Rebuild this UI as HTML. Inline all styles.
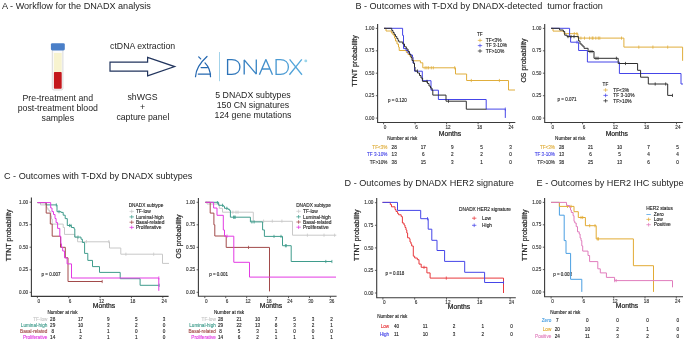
<!DOCTYPE html><html><head><meta charset="utf-8"><style>html,body{margin:0;padding:0;background:#fff;overflow:hidden}svg{display:block;filter:blur(0.25px)}text{font-family:"Liberation Sans",sans-serif}</style></head><body>
<svg width="685" height="342" viewBox="0 0 685 342">
<rect width="685" height="342" fill="#fff"/>
<text x="2.00" y="9.40" font-size="9.1" fill="#1e1e1e" text-anchor="start" >A - Workflow for the DNADX analysis</text>
<rect x="52.3" y="49" width="10.6" height="41" rx="1.6" fill="#fbfbfb" stroke="#d0d0d0" stroke-width="0.8"/>
<rect x="53.9" y="52.9" width="7.8" height="19.2" fill="#f7f3cf"/>
<rect x="53.9" y="71.9" width="7.8" height="16.8" rx="0.8" fill="#c4181c"/>
<rect x="50.9" y="43.2" width="13.9" height="7.3" rx="1.4" fill="#4a7fc8"/>
<text x="57.80" y="101.10" font-size="8.75" fill="#1e1e1e" text-anchor="middle" >Pre-treatment and</text>
<text x="57.80" y="111.00" font-size="8.75" fill="#1e1e1e" text-anchor="middle" >post-treatment blood</text>
<text x="57.80" y="120.90" font-size="8.75" fill="#1e1e1e" text-anchor="middle" >samples</text>
<text x="142.60" y="48.80" font-size="8.75" fill="#1e1e1e" text-anchor="middle" >ctDNA extraction</text>
<path d="M110 62.1H147.6V57.4L174.7 66.6L147.6 75.8V71.1H110Z" fill="#fff" stroke="#22355e" stroke-width="1.2" stroke-linejoin="miter"/>
<text x="142.50" y="100.10" font-size="8.75" fill="#1e1e1e" text-anchor="middle" >shWGS</text>
<text x="142.50" y="110.20" font-size="8.75" fill="#1e1e1e" text-anchor="middle" >+</text>
<text x="142.90" y="120.30" font-size="8.75" fill="#1e1e1e" text-anchor="middle" >capture panel</text>
<defs><linearGradient id="lg" gradientUnits="userSpaceOnUse" x1="215" y1="80" x2="300" y2="48"><stop offset="0" stop-color="#2467b0"/><stop offset="1" stop-color="#5aaee0"/></linearGradient></defs>
<g fill="none" stroke="url(#lg)" stroke-width="1.25" stroke-linecap="round"><path d="M198.7 56.9L200.7 58.9"/><path d="M207 56.5C202 61 196 67 195.5 76.7"/><path d="M205 62.9C208 66 210.4 70 210.5 76.7"/><path d="M201.1 67.6H207.4"/><path d="M198.3 74.1H210.5"/></g>
<path d="M219.5 52V81.2" stroke="#8cc8e4" stroke-width="0.8"/>
<g fill="none" stroke="url(#lg)" stroke-width="1.35" stroke-linejoin="miter"><path d="M227.6 59.6V74.4H231.8C236.9 74.4 239.9 71.2 239.9 67C239.9 62.8 236.9 59.6 231.8 59.6Z"/><path d="M244.2 74.6V59.9L256.3 74.1V59.4" stroke-linejoin="bevel"/><path d="M259.4 74.7L265.9 59.6L272.5 74.7M261.9 69H270" stroke-linejoin="round"/><path d="M276.1 59.6V74.4H280.3C285.4 74.4 288.4 71.2 288.4 67C288.4 62.8 285.4 59.6 280.3 59.6Z"/><path d="M289.6 59.4L302 74.7M301.8 59.4L289.4 74.7"/></g>
<circle cx="305.8" cy="60.9" r="1.45" fill="#9cd6ea"/>
<text x="253.00" y="98.20" font-size="8.75" fill="#1e1e1e" text-anchor="middle" >5 DNADX subtypes</text>
<text x="253.00" y="108.10" font-size="8.75" fill="#1e1e1e" text-anchor="middle" >150 CN signatures</text>
<text x="253.00" y="118.00" font-size="8.75" fill="#1e1e1e" text-anchor="middle" >124 gene mutations</text>
<text x="355.40" y="9.30" font-size="9.1" fill="#1e1e1e" text-anchor="start" style="white-space:pre">B - Outcomes with T-DXd by DNADX-detected  tumor fraction</text>
<path d="M377.60 24.10V122.50H515.30" fill="none" stroke="#3a3a3a" stroke-width="1.1"/>
<path d="M375.80 28.40H377.60M375.80 50.80H377.60M375.80 73.20H377.60M375.80 95.70H377.60M375.80 118.10H377.60M383.60 122.50V124.30M415.10 122.50V124.30M446.60 122.50V124.30M478.10 122.50V124.30M509.60 122.50V124.30" stroke="#3a3a3a" stroke-width="0.8" fill="none"/>
<text x="374.30" y="30.05" font-size="4.65" fill="#333333" stroke="#333333" stroke-width="0.12" text-anchor="end" >1.00</text>
<text x="374.30" y="52.45" font-size="4.65" fill="#333333" stroke="#333333" stroke-width="0.12" text-anchor="end" >0.75</text>
<text x="374.30" y="74.85" font-size="4.65" fill="#333333" stroke="#333333" stroke-width="0.12" text-anchor="end" >0.50</text>
<text x="374.30" y="97.35" font-size="4.65" fill="#333333" stroke="#333333" stroke-width="0.12" text-anchor="end" >0.25</text>
<text x="374.30" y="119.75" font-size="4.65" fill="#333333" stroke="#333333" stroke-width="0.12" text-anchor="end" >0.00</text>
<text x="385.00" y="128.90" font-size="4.65" fill="#333333" stroke="#333333" stroke-width="0.12" text-anchor="middle" >0</text>
<text x="416.50" y="128.90" font-size="4.65" fill="#333333" stroke="#333333" stroke-width="0.12" text-anchor="middle" >6</text>
<text x="448.00" y="128.90" font-size="4.65" fill="#333333" stroke="#333333" stroke-width="0.12" text-anchor="middle" >12</text>
<text x="479.50" y="128.90" font-size="4.65" fill="#333333" stroke="#333333" stroke-width="0.12" text-anchor="middle" >18</text>
<text x="511.00" y="128.90" font-size="4.65" fill="#333333" stroke="#333333" stroke-width="0.12" text-anchor="middle" >24</text>
<text transform="translate(356.80,61.00) rotate(-90)" font-size="7" fill="#1e1e1e" stroke="#1e1e1e" stroke-width="0.2" text-anchor="middle">TTNT probability</text>
<text x="450.00" y="135.70" font-size="6.8" fill="#1e1e1e" stroke="#1e1e1e" stroke-width="0.22" text-anchor="middle" >Months</text>
<text x="387.90" y="102.00" font-size="4.5" fill="#1e1e1e" stroke="#1e1e1e" stroke-width="0.12" text-anchor="start" >p = 0.120</text>
<path d="M384.00 28.30H386.00V31.00H391.40V33.00H393.00V35.00H394.50V38.00H395.50V41.00H397.00V44.00H398.50V47.00H399.20V50.50H406.30V52.50H408.00V54.50H410.00V56.50H411.70V58.00H412.90V60.80H420.40V62.80H422.80V67.80H455.50V74.00H466.60V80.50H508.50V90.00H515.00" fill="none" stroke="#e0ae3c" stroke-width="1.0" stroke-opacity="1.0"/>
<path d="M425.10 66.20V69.40M426.90 66.20V69.40M428.60 66.20V69.40M431.30 66.20V69.40M433.30 66.20V69.40M454.70 66.20V69.40" stroke="#e0ae3c" stroke-width="0.8" fill="none"/>
<path d="M471.30 78.90V82.10M499.40 78.90V82.10" stroke="#e0ae3c" stroke-width="0.8" fill="none"/>
<path d="M384.00 28.30H402.60V35.40H403.50V48.60H406.00V50.50H408.00V53.00H410.00V55.00H412.50V57.00H413.00V63.00H414.50V71.20H422.30V80.70H431.00V90.20H438.40V99.50H486.20V109.10H505.30V117.90H505.30" fill="none" stroke="#4545e8" stroke-width="1.0" stroke-opacity="1.0"/>
<path d="M505.30 107.50V110.70" stroke="#4545e8" stroke-width="0.8" fill="none"/>
<path d="M384.00 28.30H391.80V30.50H393.00V32.50H394.20V34.50H395.50V36.50H396.80V38.50H398.00V40.50H398.90V42.00H402.80V44.00H404.50V46.80H406.30V49.00H408.00V51.50H409.50V54.50H411.00V57.50H412.00V60.50H413.40V63.40H414.50V67.00H415.00V71.00H417.50V73.00H419.50V75.50H421.00V78.00H422.60V81.40H427.50V83.50H429.00V86.00H430.50V88.00H432.00V90.00H432.80V95.10H446.00V101.20H466.30V109.20H486.50" fill="none" stroke="#2e2e2e" stroke-width="1.0" stroke-opacity="1.0"/>
<path d="M417.40 69.40V72.60" stroke="#2e2e2e" stroke-width="0.8" fill="none"/>
<path d="M427.00 79.80V83.00" stroke="#2e2e2e" stroke-width="0.8" fill="none"/>
<path d="M448.50 99.60V102.80" stroke="#2e2e2e" stroke-width="0.8" fill="none"/>
<text x="477.00" y="36.00" font-size="4.65" fill="#1e1e1e" stroke="#1e1e1e" stroke-width="0.12" text-anchor="start" >TF</text>
<path d="M477.80 40.40H482.20M480.00 38.60V42.20" stroke="#e0ae3c" stroke-width="0.75"/>
<text x="485.80" y="42.10" font-size="4.85" fill="#1e1e1e" stroke="#1e1e1e" stroke-width="0.12" text-anchor="start" >TF&lt;3%</text>
<path d="M477.80 45.60H482.20M480.00 43.80V47.40" stroke="#4545e8" stroke-width="0.75"/>
<text x="485.80" y="47.30" font-size="4.85" fill="#1e1e1e" stroke="#1e1e1e" stroke-width="0.12" text-anchor="start" >TF 3-10%</text>
<path d="M477.80 51.00H482.20M480.00 49.20V52.80" stroke="#2e2e2e" stroke-width="0.75"/>
<text x="485.80" y="52.70" font-size="4.85" fill="#1e1e1e" stroke="#1e1e1e" stroke-width="0.12" text-anchor="start" >TF&gt;10%</text>
<text x="387.20" y="140.00" font-size="4.65" fill="#1e1e1e" stroke="#1e1e1e" stroke-width="0.12" text-anchor="start" >Number at risk</text>
<text x="387.40" y="149.00" font-size="4.65" fill="#e0ae3c" stroke="#e0ae3c" stroke-width="0.12" text-anchor="end" >TF&lt;3%</text>
<text x="394.20" y="149.00" font-size="4.65" fill="#1e1e1e" stroke="#1e1e1e" stroke-width="0.12" text-anchor="middle" >28</text>
<text x="423.30" y="149.00" font-size="4.65" fill="#1e1e1e" stroke="#1e1e1e" stroke-width="0.12" text-anchor="middle" >17</text>
<text x="452.40" y="149.00" font-size="4.65" fill="#1e1e1e" stroke="#1e1e1e" stroke-width="0.12" text-anchor="middle" >9</text>
<text x="481.50" y="149.00" font-size="4.65" fill="#1e1e1e" stroke="#1e1e1e" stroke-width="0.12" text-anchor="middle" >5</text>
<text x="510.60" y="149.00" font-size="4.65" fill="#1e1e1e" stroke="#1e1e1e" stroke-width="0.12" text-anchor="middle" >3</text>
<text x="387.40" y="156.00" font-size="4.65" fill="#4545e8" stroke="#4545e8" stroke-width="0.12" text-anchor="end" >TF 3-10%</text>
<text x="394.20" y="156.00" font-size="4.65" fill="#1e1e1e" stroke="#1e1e1e" stroke-width="0.12" text-anchor="middle" >13</text>
<text x="423.30" y="156.00" font-size="4.65" fill="#1e1e1e" stroke="#1e1e1e" stroke-width="0.12" text-anchor="middle" >6</text>
<text x="452.40" y="156.00" font-size="4.65" fill="#1e1e1e" stroke="#1e1e1e" stroke-width="0.12" text-anchor="middle" >2</text>
<text x="481.50" y="156.00" font-size="4.65" fill="#1e1e1e" stroke="#1e1e1e" stroke-width="0.12" text-anchor="middle" >2</text>
<text x="510.60" y="156.00" font-size="4.65" fill="#1e1e1e" stroke="#1e1e1e" stroke-width="0.12" text-anchor="middle" >0</text>
<text x="387.40" y="164.00" font-size="4.65" fill="#2e2e2e" stroke="#2e2e2e" stroke-width="0.12" text-anchor="end" >TF&gt;10%</text>
<text x="394.20" y="164.00" font-size="4.65" fill="#1e1e1e" stroke="#1e1e1e" stroke-width="0.12" text-anchor="middle" >38</text>
<text x="423.30" y="164.00" font-size="4.65" fill="#1e1e1e" stroke="#1e1e1e" stroke-width="0.12" text-anchor="middle" >15</text>
<text x="452.40" y="164.00" font-size="4.65" fill="#1e1e1e" stroke="#1e1e1e" stroke-width="0.12" text-anchor="middle" >3</text>
<text x="481.50" y="164.00" font-size="4.65" fill="#1e1e1e" stroke="#1e1e1e" stroke-width="0.12" text-anchor="middle" >1</text>
<text x="510.60" y="164.00" font-size="4.65" fill="#1e1e1e" stroke="#1e1e1e" stroke-width="0.12" text-anchor="middle" >0</text>
<path d="M544.70 24.10V122.50H682.80" fill="none" stroke="#3a3a3a" stroke-width="1.1"/>
<path d="M542.90 28.40H544.70M542.90 50.80H544.70M542.90 73.20H544.70M542.90 95.70H544.70M542.90 118.10H544.70M551.30 122.50V124.30M582.60 122.50V124.30M613.90 122.50V124.30M645.20 122.50V124.30M676.50 122.50V124.30" stroke="#3a3a3a" stroke-width="0.8" fill="none"/>
<text x="541.40" y="30.05" font-size="4.65" fill="#333333" stroke="#333333" stroke-width="0.12" text-anchor="end" >1.00</text>
<text x="541.40" y="52.45" font-size="4.65" fill="#333333" stroke="#333333" stroke-width="0.12" text-anchor="end" >0.75</text>
<text x="541.40" y="74.85" font-size="4.65" fill="#333333" stroke="#333333" stroke-width="0.12" text-anchor="end" >0.50</text>
<text x="541.40" y="97.35" font-size="4.65" fill="#333333" stroke="#333333" stroke-width="0.12" text-anchor="end" >0.25</text>
<text x="541.40" y="119.75" font-size="4.65" fill="#333333" stroke="#333333" stroke-width="0.12" text-anchor="end" >0.00</text>
<text x="552.70" y="128.90" font-size="4.65" fill="#333333" stroke="#333333" stroke-width="0.12" text-anchor="middle" >0</text>
<text x="584.00" y="128.90" font-size="4.65" fill="#333333" stroke="#333333" stroke-width="0.12" text-anchor="middle" >6</text>
<text x="615.30" y="128.90" font-size="4.65" fill="#333333" stroke="#333333" stroke-width="0.12" text-anchor="middle" >12</text>
<text x="646.60" y="128.90" font-size="4.65" fill="#333333" stroke="#333333" stroke-width="0.12" text-anchor="middle" >18</text>
<text x="677.90" y="128.90" font-size="4.65" fill="#333333" stroke="#333333" stroke-width="0.12" text-anchor="middle" >24</text>
<text transform="translate(526.20,60.60) rotate(-90)" font-size="7" fill="#1e1e1e" stroke="#1e1e1e" stroke-width="0.2" text-anchor="middle">OS probability</text>
<text x="616.80" y="135.70" font-size="6.8" fill="#1e1e1e" stroke="#1e1e1e" stroke-width="0.22" text-anchor="middle" >Months</text>
<text x="557.60" y="101.30" font-size="4.5" fill="#1e1e1e" stroke="#1e1e1e" stroke-width="0.12" text-anchor="start" >p = 0.071</text>
<path d="M551.10 28.30H553.00V31.10H564.00V33.70H577.90V38.10H623.90V47.10H682.60V60.80H682.60" fill="none" stroke="#e0ae3c" stroke-width="1.0" stroke-opacity="1.0"/>
<path d="M574.30 32.10V35.30M576.90 32.10V35.30" stroke="#e0ae3c" stroke-width="0.8" fill="none"/>
<path d="M580.90 36.50V39.70M584.50 36.50V39.70M589.60 36.50V39.70M592.20 36.50V39.70M593.00 36.50V39.70M595.80 36.50V39.70M598.30 36.50V39.70M599.80 36.50V39.70M621.50 36.50V39.70" stroke="#e0ae3c" stroke-width="0.8" fill="none"/>
<path d="M638.80 45.50V48.70M652.90 45.50V48.70M667.70 45.50V48.70" stroke="#e0ae3c" stroke-width="0.8" fill="none"/>
<path d="M551.10 28.30H569.60V36.60H570.60V42.20H578.60V50.50H587.40V62.00H619.40V73.50H681.00V84.00H683.00" fill="none" stroke="#4545e8" stroke-width="1.0" stroke-opacity="1.0"/>
<path d="M577.00 40.60V43.80" stroke="#4545e8" stroke-width="0.8" fill="none"/>
<path d="M551.10 28.30H559.60V30.00H563.30V31.50H564.70V35.20H567.00V36.60H578.60V41.00H580.00V44.00H582.00V46.00H584.00V48.30H588.10V51.50H594.00V58.30H618.20V63.50H637.60V70.30H640.60V77.20H648.30V84.00H667.70V95.40H672.50" fill="none" stroke="#2e2e2e" stroke-width="1.0" stroke-opacity="1.0"/>
<path d="M568.00 35.00V38.20M571.00 35.00V38.20M574.00 35.00V38.20" stroke="#2e2e2e" stroke-width="0.8" fill="none"/>
<path d="M590.00 49.90V53.10M592.00 49.90V53.10" stroke="#2e2e2e" stroke-width="0.8" fill="none"/>
<path d="M596.00 56.70V59.90M598.00 56.70V59.90M616.40 56.70V59.90" stroke="#2e2e2e" stroke-width="0.8" fill="none"/>
<path d="M625.50 61.90V65.10" stroke="#2e2e2e" stroke-width="0.8" fill="none"/>
<path d="M655.20 82.40V85.60M665.70 82.40V85.60" stroke="#2e2e2e" stroke-width="0.8" fill="none"/>
<path d="M672.50 93.80V97.00" stroke="#2e2e2e" stroke-width="0.8" fill="none"/>
<text x="602.60" y="85.70" font-size="4.65" fill="#1e1e1e" stroke="#1e1e1e" stroke-width="0.12" text-anchor="start" >TF</text>
<path d="M603.40 90.00H607.80M605.60 88.20V91.80" stroke="#e0ae3c" stroke-width="0.75"/>
<text x="613.20" y="91.70" font-size="4.85" fill="#1e1e1e" stroke="#1e1e1e" stroke-width="0.12" text-anchor="start" >TF&lt;3%</text>
<path d="M603.40 95.40H607.80M605.60 93.60V97.20" stroke="#4545e8" stroke-width="0.75"/>
<text x="613.20" y="97.10" font-size="4.85" fill="#1e1e1e" stroke="#1e1e1e" stroke-width="0.12" text-anchor="start" >TF 3-10%</text>
<path d="M603.40 100.80H607.80M605.60 99.00V102.60" stroke="#2e2e2e" stroke-width="0.75"/>
<text x="613.20" y="102.50" font-size="4.85" fill="#1e1e1e" stroke="#1e1e1e" stroke-width="0.12" text-anchor="start" >TF&gt;10%</text>
<text x="555.10" y="140.00" font-size="4.65" fill="#1e1e1e" stroke="#1e1e1e" stroke-width="0.12" text-anchor="start" >Number at risk</text>
<text x="555.00" y="149.00" font-size="4.65" fill="#e0ae3c" stroke="#e0ae3c" stroke-width="0.12" text-anchor="end" >TF&lt;3%</text>
<text x="561.60" y="149.00" font-size="4.65" fill="#1e1e1e" stroke="#1e1e1e" stroke-width="0.12" text-anchor="middle" >28</text>
<text x="590.60" y="149.00" font-size="4.65" fill="#1e1e1e" stroke="#1e1e1e" stroke-width="0.12" text-anchor="middle" >21</text>
<text x="619.60" y="149.00" font-size="4.65" fill="#1e1e1e" stroke="#1e1e1e" stroke-width="0.12" text-anchor="middle" >10</text>
<text x="648.60" y="149.00" font-size="4.65" fill="#1e1e1e" stroke="#1e1e1e" stroke-width="0.12" text-anchor="middle" >7</text>
<text x="677.60" y="149.00" font-size="4.65" fill="#1e1e1e" stroke="#1e1e1e" stroke-width="0.12" text-anchor="middle" >5</text>
<text x="555.00" y="156.00" font-size="4.65" fill="#4545e8" stroke="#4545e8" stroke-width="0.12" text-anchor="end" >TF 3-10%</text>
<text x="561.60" y="156.00" font-size="4.65" fill="#1e1e1e" stroke="#1e1e1e" stroke-width="0.12" text-anchor="middle" >13</text>
<text x="590.60" y="156.00" font-size="4.65" fill="#1e1e1e" stroke="#1e1e1e" stroke-width="0.12" text-anchor="middle" >6</text>
<text x="619.60" y="156.00" font-size="4.65" fill="#1e1e1e" stroke="#1e1e1e" stroke-width="0.12" text-anchor="middle" >5</text>
<text x="648.60" y="156.00" font-size="4.65" fill="#1e1e1e" stroke="#1e1e1e" stroke-width="0.12" text-anchor="middle" >4</text>
<text x="677.60" y="156.00" font-size="4.65" fill="#1e1e1e" stroke="#1e1e1e" stroke-width="0.12" text-anchor="middle" >4</text>
<text x="555.00" y="164.00" font-size="4.65" fill="#2e2e2e" stroke="#2e2e2e" stroke-width="0.12" text-anchor="end" >TF&gt;10%</text>
<text x="561.60" y="164.00" font-size="4.65" fill="#1e1e1e" stroke="#1e1e1e" stroke-width="0.12" text-anchor="middle" >38</text>
<text x="590.60" y="164.00" font-size="4.65" fill="#1e1e1e" stroke="#1e1e1e" stroke-width="0.12" text-anchor="middle" >25</text>
<text x="619.60" y="164.00" font-size="4.65" fill="#1e1e1e" stroke="#1e1e1e" stroke-width="0.12" text-anchor="middle" >13</text>
<text x="648.60" y="164.00" font-size="4.65" fill="#1e1e1e" stroke="#1e1e1e" stroke-width="0.12" text-anchor="middle" >6</text>
<text x="677.60" y="164.00" font-size="4.65" fill="#1e1e1e" stroke="#1e1e1e" stroke-width="0.12" text-anchor="middle" >0</text>
<text x="4.00" y="179.40" font-size="9.1" fill="#1e1e1e" text-anchor="start" >C - Outcomes with T-DXd by DNADX subtypes</text>
<path d="M31.40 197.60V296.40H168.60" fill="none" stroke="#3a3a3a" stroke-width="1.1"/>
<path d="M29.60 202.20H31.40M29.60 224.70H31.40M29.60 247.20H31.40M29.60 269.80H31.40M29.60 292.30H31.40M37.40 296.40V298.20M68.75 296.40V298.20M100.10 296.40V298.20M131.45 296.40V298.20M162.80 296.40V298.20" stroke="#3a3a3a" stroke-width="0.8" fill="none"/>
<text x="28.10" y="203.85" font-size="4.65" fill="#333333" stroke="#333333" stroke-width="0.12" text-anchor="end" >1.00</text>
<text x="28.10" y="226.35" font-size="4.65" fill="#333333" stroke="#333333" stroke-width="0.12" text-anchor="end" >0.75</text>
<text x="28.10" y="248.85" font-size="4.65" fill="#333333" stroke="#333333" stroke-width="0.12" text-anchor="end" >0.50</text>
<text x="28.10" y="271.45" font-size="4.65" fill="#333333" stroke="#333333" stroke-width="0.12" text-anchor="end" >0.25</text>
<text x="28.10" y="293.95" font-size="4.65" fill="#333333" stroke="#333333" stroke-width="0.12" text-anchor="end" >0.00</text>
<text x="38.80" y="302.80" font-size="4.65" fill="#333333" stroke="#333333" stroke-width="0.12" text-anchor="middle" >0</text>
<text x="70.15" y="302.80" font-size="4.65" fill="#333333" stroke="#333333" stroke-width="0.12" text-anchor="middle" >6</text>
<text x="101.50" y="302.80" font-size="4.65" fill="#333333" stroke="#333333" stroke-width="0.12" text-anchor="middle" >12</text>
<text x="132.85" y="302.80" font-size="4.65" fill="#333333" stroke="#333333" stroke-width="0.12" text-anchor="middle" >18</text>
<text x="164.20" y="302.80" font-size="4.65" fill="#333333" stroke="#333333" stroke-width="0.12" text-anchor="middle" >24</text>
<text transform="translate(10.90,235.40) rotate(-90)" font-size="7" fill="#1e1e1e" stroke="#1e1e1e" stroke-width="0.2" text-anchor="middle">TTNT probability</text>
<text x="104.00" y="307.60" font-size="6.8" fill="#1e1e1e" stroke="#1e1e1e" stroke-width="0.22" text-anchor="middle" >Months</text>
<text x="41.60" y="275.70" font-size="4.5" fill="#1e1e1e" stroke="#1e1e1e" stroke-width="0.12" text-anchor="start" >p = 0.007</text>
<path d="M37.60 202.60H40.50V204.90H46.70V208.00H48.00V210.00H49.40V211.70H50.80V215.90H51.50V219.00H52.20V224.10H63.20V227.50H64.50V234.40H74.80V237.10H77.60V241.80H109.50V248.00H120.80V254.20H162.50V263.40H169.00" fill="none" stroke="#c8c8c8" stroke-width="1.0" stroke-opacity="1.0"/>
<path d="M86.40 240.00V243.20M108.80 240.00V243.20" stroke="#c8c8c8" stroke-width="0.8" fill="none"/>
<path d="M125.90 252.60V255.80M153.70 252.60V255.80" stroke="#c8c8c8" stroke-width="0.8" fill="none"/>
<path d="M37.60 202.60H46.00V204.90H57.00V211.70H61.10V212.40H63.20V215.20H65.20V218.60H67.30V225.50H71.40V227.50H74.10V228.90H74.80V237.10H81.00V239.20H82.40V242.50H84.60V253.40H87.80V260.40H92.50V266.60H99.50V272.40H120.20V278.70H140.10V285.30H159.20" fill="none" stroke="#3f9c8c" stroke-width="1.0" stroke-opacity="1.0"/>
<path d="M56.30 203.30V206.50" stroke="#3f9c8c" stroke-width="0.8" fill="none"/>
<path d="M59.00 210.10V213.30" stroke="#3f9c8c" stroke-width="0.8" fill="none"/>
<path d="M69.50 223.90V227.10M71.00 223.90V227.10" stroke="#3f9c8c" stroke-width="0.8" fill="none"/>
<path d="M78.00 235.50V238.70" stroke="#3f9c8c" stroke-width="0.8" fill="none"/>
<path d="M159.20 283.70V286.90" stroke="#3f9c8c" stroke-width="0.8" fill="none"/>
<path d="M37.60 202.60H46.20V213.10H50.30V224.00H52.20V236.20H60.50V247.30H65.30V257.80H68.00V281.50H102.20" fill="none" stroke="#a24a4a" stroke-width="1.0" stroke-opacity="1.0"/>
<path d="M102.20 279.90V283.10" stroke="#a24a4a" stroke-width="0.8" fill="none"/>
<path d="M37.60 202.60H50.70V208.00H52.00V211.60H53.50V214.50H55.00V218.50H56.10V222.60H57.60V228.40H59.80V236.50H60.90V243.80H61.50V247.30H62.70V251.00H64.50V257.80H67.10V263.90H71.50V278.00H158.80V290.80H158.80" fill="none" stroke="#e33ae3" stroke-width="1.0" stroke-opacity="1.0"/>
<path d="M158.80 276.40V279.60" stroke="#e33ae3" stroke-width="0.8" fill="none"/>
<text x="128.70" y="207.10" font-size="4.75" fill="#1e1e1e" stroke="#1e1e1e" stroke-width="0.12" text-anchor="start" >DNADX subtype</text>
<path d="M129.50 211.40H133.90M131.70 209.60V213.20" stroke="#c8c8c8" stroke-width="0.75"/>
<text x="135.90" y="213.10" font-size="4.85" fill="#1e1e1e" stroke="#1e1e1e" stroke-width="0.12" text-anchor="start" >TF-low</text>
<path d="M129.50 216.90H133.90M131.70 215.10V218.70" stroke="#3f9c8c" stroke-width="0.75"/>
<text x="135.90" y="218.60" font-size="4.85" fill="#1e1e1e" stroke="#1e1e1e" stroke-width="0.12" text-anchor="start" >Luminal-high</text>
<path d="M129.50 222.20H133.90M131.70 220.40V224.00" stroke="#a24a4a" stroke-width="0.75"/>
<text x="135.90" y="223.90" font-size="4.85" fill="#1e1e1e" stroke="#1e1e1e" stroke-width="0.12" text-anchor="start" >Basal-related</text>
<path d="M129.50 227.40H133.90M131.70 225.60V229.20" stroke="#e33ae3" stroke-width="0.75"/>
<text x="135.90" y="229.10" font-size="4.85" fill="#1e1e1e" stroke="#1e1e1e" stroke-width="0.12" text-anchor="start" >Proliferative</text>
<text x="47.40" y="314.00" font-size="4.65" fill="#1e1e1e" stroke="#1e1e1e" stroke-width="0.12" text-anchor="start" >Number at risk</text>
<text x="47.40" y="321.00" font-size="4.65" fill="#c8c8c8" stroke="#c8c8c8" stroke-width="0.12" text-anchor="end" >TF-low</text>
<text x="52.70" y="321.00" font-size="4.65" fill="#1e1e1e" stroke="#1e1e1e" stroke-width="0.12" text-anchor="middle" >28</text>
<text x="80.53" y="321.00" font-size="4.65" fill="#1e1e1e" stroke="#1e1e1e" stroke-width="0.12" text-anchor="middle" >17</text>
<text x="108.36" y="321.00" font-size="4.65" fill="#1e1e1e" stroke="#1e1e1e" stroke-width="0.12" text-anchor="middle" >9</text>
<text x="136.19" y="321.00" font-size="4.65" fill="#1e1e1e" stroke="#1e1e1e" stroke-width="0.12" text-anchor="middle" >5</text>
<text x="164.02" y="321.00" font-size="4.65" fill="#1e1e1e" stroke="#1e1e1e" stroke-width="0.12" text-anchor="middle" >3</text>
<text x="47.40" y="327.00" font-size="4.65" fill="#3f9c8c" stroke="#3f9c8c" stroke-width="0.12" text-anchor="end" >Luminal-high</text>
<text x="52.70" y="327.00" font-size="4.65" fill="#1e1e1e" stroke="#1e1e1e" stroke-width="0.12" text-anchor="middle" >29</text>
<text x="80.53" y="327.00" font-size="4.65" fill="#1e1e1e" stroke="#1e1e1e" stroke-width="0.12" text-anchor="middle" >10</text>
<text x="108.36" y="327.00" font-size="4.65" fill="#1e1e1e" stroke="#1e1e1e" stroke-width="0.12" text-anchor="middle" >3</text>
<text x="136.19" y="327.00" font-size="4.65" fill="#1e1e1e" stroke="#1e1e1e" stroke-width="0.12" text-anchor="middle" >2</text>
<text x="164.02" y="327.00" font-size="4.65" fill="#1e1e1e" stroke="#1e1e1e" stroke-width="0.12" text-anchor="middle" >0</text>
<text x="47.40" y="333.00" font-size="4.65" fill="#a24a4a" stroke="#a24a4a" stroke-width="0.12" text-anchor="end" >Basal-related</text>
<text x="52.70" y="333.00" font-size="4.65" fill="#1e1e1e" stroke="#1e1e1e" stroke-width="0.12" text-anchor="middle" >8</text>
<text x="80.53" y="333.00" font-size="4.65" fill="#1e1e1e" stroke="#1e1e1e" stroke-width="0.12" text-anchor="middle" >1</text>
<text x="108.36" y="333.00" font-size="4.65" fill="#1e1e1e" stroke="#1e1e1e" stroke-width="0.12" text-anchor="middle" >1</text>
<text x="136.19" y="333.00" font-size="4.65" fill="#1e1e1e" stroke="#1e1e1e" stroke-width="0.12" text-anchor="middle" >0</text>
<text x="164.02" y="333.00" font-size="4.65" fill="#1e1e1e" stroke="#1e1e1e" stroke-width="0.12" text-anchor="middle" >0</text>
<text x="47.40" y="339.00" font-size="4.65" fill="#e33ae3" stroke="#e33ae3" stroke-width="0.12" text-anchor="end" >Proliferative</text>
<text x="52.70" y="339.00" font-size="4.65" fill="#1e1e1e" stroke="#1e1e1e" stroke-width="0.12" text-anchor="middle" >14</text>
<text x="80.53" y="339.00" font-size="4.65" fill="#1e1e1e" stroke="#1e1e1e" stroke-width="0.12" text-anchor="middle" >2</text>
<text x="108.36" y="339.00" font-size="4.65" fill="#1e1e1e" stroke="#1e1e1e" stroke-width="0.12" text-anchor="middle" >1</text>
<text x="136.19" y="339.00" font-size="4.65" fill="#1e1e1e" stroke="#1e1e1e" stroke-width="0.12" text-anchor="middle" >1</text>
<text x="164.02" y="339.00" font-size="4.65" fill="#1e1e1e" stroke="#1e1e1e" stroke-width="0.12" text-anchor="middle" >0</text>
<path d="M198.40 197.90V296.30H336.60" fill="none" stroke="#3a3a3a" stroke-width="1.1"/>
<path d="M196.60 202.30H198.40M196.60 224.80H198.40M196.60 247.30H198.40M196.60 269.80H198.40M196.60 292.30H198.40M204.80 296.30V298.10M225.73 296.30V298.10M246.66 296.30V298.10M267.59 296.30V298.10M288.52 296.30V298.10M309.45 296.30V298.10M330.38 296.30V298.10" stroke="#3a3a3a" stroke-width="0.8" fill="none"/>
<text x="195.10" y="203.95" font-size="4.65" fill="#333333" stroke="#333333" stroke-width="0.12" text-anchor="end" >1.00</text>
<text x="195.10" y="226.45" font-size="4.65" fill="#333333" stroke="#333333" stroke-width="0.12" text-anchor="end" >0.75</text>
<text x="195.10" y="248.95" font-size="4.65" fill="#333333" stroke="#333333" stroke-width="0.12" text-anchor="end" >0.50</text>
<text x="195.10" y="271.45" font-size="4.65" fill="#333333" stroke="#333333" stroke-width="0.12" text-anchor="end" >0.25</text>
<text x="195.10" y="293.95" font-size="4.65" fill="#333333" stroke="#333333" stroke-width="0.12" text-anchor="end" >0.00</text>
<text x="206.20" y="302.70" font-size="4.65" fill="#333333" stroke="#333333" stroke-width="0.12" text-anchor="middle" >0</text>
<text x="227.13" y="302.70" font-size="4.65" fill="#333333" stroke="#333333" stroke-width="0.12" text-anchor="middle" >6</text>
<text x="248.06" y="302.70" font-size="4.65" fill="#333333" stroke="#333333" stroke-width="0.12" text-anchor="middle" >12</text>
<text x="268.99" y="302.70" font-size="4.65" fill="#333333" stroke="#333333" stroke-width="0.12" text-anchor="middle" >18</text>
<text x="289.92" y="302.70" font-size="4.65" fill="#333333" stroke="#333333" stroke-width="0.12" text-anchor="middle" >24</text>
<text x="310.85" y="302.70" font-size="4.65" fill="#333333" stroke="#333333" stroke-width="0.12" text-anchor="middle" >30</text>
<text x="331.78" y="302.70" font-size="4.65" fill="#333333" stroke="#333333" stroke-width="0.12" text-anchor="middle" >36</text>
<text transform="translate(181.20,236.40) rotate(-90)" font-size="7" fill="#1e1e1e" stroke="#1e1e1e" stroke-width="0.2" text-anchor="middle">OS probability</text>
<text x="271.00" y="307.60" font-size="6.8" fill="#1e1e1e" stroke="#1e1e1e" stroke-width="0.22" text-anchor="middle" >Months</text>
<text x="209.20" y="275.70" font-size="4.5" fill="#1e1e1e" stroke="#1e1e1e" stroke-width="0.12" text-anchor="start" >p = 0.001</text>
<path d="M205.40 202.30H207.00V204.00H219.30V208.30H222.50V212.20H253.30V221.30H292.50V235.20H336.30" fill="none" stroke="#c8c8c8" stroke-width="1.0" stroke-opacity="1.0"/>
<path d="M232.90 210.60V213.80M236.00 210.60V213.80M238.00 210.60V213.80" stroke="#c8c8c8" stroke-width="0.8" fill="none"/>
<path d="M263.60 219.50V222.70M272.30 219.50V222.70M281.90 219.50V222.70" stroke="#c8c8c8" stroke-width="0.8" fill="none"/>
<path d="M307.40 233.60V236.80M324.00 233.60V236.80M334.60 233.60V236.80" stroke="#c8c8c8" stroke-width="0.8" fill="none"/>
<path d="M205.40 202.30H218.60V205.30H223.50V206.30H224.50V208.30H228.00V209.30H229.60V210.50H230.40V217.20H250.40V221.90H262.60V229.90H264.40V236.40H282.50V245.70H291.20V261.50H331.90" fill="none" stroke="#3f9c8c" stroke-width="1.0" stroke-opacity="1.0"/>
<path d="M217.40 201.00V204.20" stroke="#3f9c8c" stroke-width="0.8" fill="none"/>
<path d="M222.50 203.70V206.90" stroke="#3f9c8c" stroke-width="0.8" fill="none"/>
<path d="M226.80 206.70V209.90" stroke="#3f9c8c" stroke-width="0.8" fill="none"/>
<path d="M233.50 215.60V218.80M234.40 215.60V218.80M235.30 215.60V218.80" stroke="#3f9c8c" stroke-width="0.8" fill="none"/>
<path d="M251.90 220.30V223.50M254.10 220.30V223.50" stroke="#3f9c8c" stroke-width="0.8" fill="none"/>
<path d="M274.00 234.80V238.00M281.00 234.80V238.00" stroke="#3f9c8c" stroke-width="0.8" fill="none"/>
<path d="M285.40 244.10V247.30M286.30 244.10V247.30" stroke="#3f9c8c" stroke-width="0.8" fill="none"/>
<path d="M325.80 259.90V263.10M331.90 259.90V263.10" stroke="#3f9c8c" stroke-width="0.8" fill="none"/>
<path d="M205.40 202.30H210.20V213.10H213.90V224.80H214.80V236.00H226.20V247.40H269.50V291.40H269.50" fill="none" stroke="#a24a4a" stroke-width="1.0" stroke-opacity="1.0"/>
<path d="M248.50 245.80V249.00" stroke="#a24a4a" stroke-width="0.8" fill="none"/>
<path d="M205.40 202.30H213.60V208.00H217.00V215.30H223.30V230.00H224.50V236.20H233.80V262.30H249.50V277.10H336.00" fill="none" stroke="#e33ae3" stroke-width="1.0" stroke-opacity="1.0"/>
<path d="M227.00 234.60V237.80" stroke="#e33ae3" stroke-width="0.8" fill="none"/>
<text x="296.20" y="207.20" font-size="4.75" fill="#1e1e1e" stroke="#1e1e1e" stroke-width="0.12" text-anchor="start" >DNADX subtype</text>
<path d="M296.40 211.30H300.80M298.60 209.50V213.10" stroke="#c8c8c8" stroke-width="0.75"/>
<text x="303.00" y="213.00" font-size="4.85" fill="#1e1e1e" stroke="#1e1e1e" stroke-width="0.12" text-anchor="start" >TF-low</text>
<path d="M296.40 216.80H300.80M298.60 215.00V218.60" stroke="#3f9c8c" stroke-width="0.75"/>
<text x="303.00" y="218.50" font-size="4.85" fill="#1e1e1e" stroke="#1e1e1e" stroke-width="0.12" text-anchor="start" >Luminal-high</text>
<path d="M296.40 222.00H300.80M298.60 220.20V223.80" stroke="#a24a4a" stroke-width="0.75"/>
<text x="303.00" y="223.70" font-size="4.85" fill="#1e1e1e" stroke="#1e1e1e" stroke-width="0.12" text-anchor="start" >Basal-related</text>
<path d="M296.40 227.20H300.80M298.60 225.40V229.00" stroke="#e33ae3" stroke-width="0.75"/>
<text x="303.00" y="228.90" font-size="4.85" fill="#1e1e1e" stroke="#1e1e1e" stroke-width="0.12" text-anchor="start" >Proliferative</text>
<text x="214.00" y="314.00" font-size="4.65" fill="#1e1e1e" stroke="#1e1e1e" stroke-width="0.12" text-anchor="start" >Number at risk</text>
<text x="215.80" y="321.00" font-size="4.65" fill="#c8c8c8" stroke="#c8c8c8" stroke-width="0.12" text-anchor="end" >TF-low</text>
<text x="220.50" y="321.00" font-size="4.65" fill="#1e1e1e" stroke="#1e1e1e" stroke-width="0.12" text-anchor="middle" >28</text>
<text x="239.00" y="321.00" font-size="4.65" fill="#1e1e1e" stroke="#1e1e1e" stroke-width="0.12" text-anchor="middle" >21</text>
<text x="257.50" y="321.00" font-size="4.65" fill="#1e1e1e" stroke="#1e1e1e" stroke-width="0.12" text-anchor="middle" >10</text>
<text x="276.00" y="321.00" font-size="4.65" fill="#1e1e1e" stroke="#1e1e1e" stroke-width="0.12" text-anchor="middle" >7</text>
<text x="294.50" y="321.00" font-size="4.65" fill="#1e1e1e" stroke="#1e1e1e" stroke-width="0.12" text-anchor="middle" >5</text>
<text x="313.00" y="321.00" font-size="4.65" fill="#1e1e1e" stroke="#1e1e1e" stroke-width="0.12" text-anchor="middle" >3</text>
<text x="331.50" y="321.00" font-size="4.65" fill="#1e1e1e" stroke="#1e1e1e" stroke-width="0.12" text-anchor="middle" >2</text>
<text x="215.80" y="327.00" font-size="4.65" fill="#3f9c8c" stroke="#3f9c8c" stroke-width="0.12" text-anchor="end" >Luminal-high</text>
<text x="220.50" y="327.00" font-size="4.65" fill="#1e1e1e" stroke="#1e1e1e" stroke-width="0.12" text-anchor="middle" >29</text>
<text x="239.00" y="327.00" font-size="4.65" fill="#1e1e1e" stroke="#1e1e1e" stroke-width="0.12" text-anchor="middle" >22</text>
<text x="257.50" y="327.00" font-size="4.65" fill="#1e1e1e" stroke="#1e1e1e" stroke-width="0.12" text-anchor="middle" >13</text>
<text x="276.00" y="327.00" font-size="4.65" fill="#1e1e1e" stroke="#1e1e1e" stroke-width="0.12" text-anchor="middle" >8</text>
<text x="294.50" y="327.00" font-size="4.65" fill="#1e1e1e" stroke="#1e1e1e" stroke-width="0.12" text-anchor="middle" >3</text>
<text x="313.00" y="327.00" font-size="4.65" fill="#1e1e1e" stroke="#1e1e1e" stroke-width="0.12" text-anchor="middle" >2</text>
<text x="331.50" y="327.00" font-size="4.65" fill="#1e1e1e" stroke="#1e1e1e" stroke-width="0.12" text-anchor="middle" >1</text>
<text x="215.80" y="333.00" font-size="4.65" fill="#a24a4a" stroke="#a24a4a" stroke-width="0.12" text-anchor="end" >Basal-related</text>
<text x="220.50" y="333.00" font-size="4.65" fill="#1e1e1e" stroke="#1e1e1e" stroke-width="0.12" text-anchor="middle" >8</text>
<text x="239.00" y="333.00" font-size="4.65" fill="#1e1e1e" stroke="#1e1e1e" stroke-width="0.12" text-anchor="middle" >5</text>
<text x="257.50" y="333.00" font-size="4.65" fill="#1e1e1e" stroke="#1e1e1e" stroke-width="0.12" text-anchor="middle" >3</text>
<text x="276.00" y="333.00" font-size="4.65" fill="#1e1e1e" stroke="#1e1e1e" stroke-width="0.12" text-anchor="middle" >1</text>
<text x="294.50" y="333.00" font-size="4.65" fill="#1e1e1e" stroke="#1e1e1e" stroke-width="0.12" text-anchor="middle" >0</text>
<text x="313.00" y="333.00" font-size="4.65" fill="#1e1e1e" stroke="#1e1e1e" stroke-width="0.12" text-anchor="middle" >0</text>
<text x="331.50" y="333.00" font-size="4.65" fill="#1e1e1e" stroke="#1e1e1e" stroke-width="0.12" text-anchor="middle" >0</text>
<text x="215.80" y="339.00" font-size="4.65" fill="#e33ae3" stroke="#e33ae3" stroke-width="0.12" text-anchor="end" >Proliferative</text>
<text x="220.50" y="339.00" font-size="4.65" fill="#1e1e1e" stroke="#1e1e1e" stroke-width="0.12" text-anchor="middle" >14</text>
<text x="239.00" y="339.00" font-size="4.65" fill="#1e1e1e" stroke="#1e1e1e" stroke-width="0.12" text-anchor="middle" >6</text>
<text x="257.50" y="339.00" font-size="4.65" fill="#1e1e1e" stroke="#1e1e1e" stroke-width="0.12" text-anchor="middle" >2</text>
<text x="276.00" y="339.00" font-size="4.65" fill="#1e1e1e" stroke="#1e1e1e" stroke-width="0.12" text-anchor="middle" >1</text>
<text x="294.50" y="339.00" font-size="4.65" fill="#1e1e1e" stroke="#1e1e1e" stroke-width="0.12" text-anchor="middle" >1</text>
<text x="313.00" y="339.00" font-size="4.65" fill="#1e1e1e" stroke="#1e1e1e" stroke-width="0.12" text-anchor="middle" >1</text>
<text x="331.50" y="339.00" font-size="4.65" fill="#1e1e1e" stroke="#1e1e1e" stroke-width="0.12" text-anchor="middle" >1</text>
<text x="344.60" y="186.30" font-size="9.1" fill="#1e1e1e" text-anchor="start" >D - Outcomes by DNADX HER2 signature</text>
<path d="M376.70 198.00V297.80H515.80" fill="none" stroke="#3a3a3a" stroke-width="1.1"/>
<path d="M374.90 202.70H376.70M374.90 225.30H376.70M374.90 247.90H376.70M374.90 270.40H376.70M374.90 293.00H376.70M382.90 297.80V299.60M414.70 297.80V299.60M446.50 297.80V299.60M478.30 297.80V299.60M510.10 297.80V299.60" stroke="#3a3a3a" stroke-width="0.8" fill="none"/>
<text x="373.40" y="204.35" font-size="4.65" fill="#333333" stroke="#333333" stroke-width="0.12" text-anchor="end" >1.00</text>
<text x="373.40" y="226.95" font-size="4.65" fill="#333333" stroke="#333333" stroke-width="0.12" text-anchor="end" >0.75</text>
<text x="373.40" y="249.55" font-size="4.65" fill="#333333" stroke="#333333" stroke-width="0.12" text-anchor="end" >0.50</text>
<text x="373.40" y="272.05" font-size="4.65" fill="#333333" stroke="#333333" stroke-width="0.12" text-anchor="end" >0.25</text>
<text x="373.40" y="294.65" font-size="4.65" fill="#333333" stroke="#333333" stroke-width="0.12" text-anchor="end" >0.00</text>
<text x="384.30" y="304.20" font-size="4.65" fill="#333333" stroke="#333333" stroke-width="0.12" text-anchor="middle" >0</text>
<text x="416.10" y="304.20" font-size="4.65" fill="#333333" stroke="#333333" stroke-width="0.12" text-anchor="middle" >6</text>
<text x="447.90" y="304.20" font-size="4.65" fill="#333333" stroke="#333333" stroke-width="0.12" text-anchor="middle" >12</text>
<text x="479.70" y="304.20" font-size="4.65" fill="#333333" stroke="#333333" stroke-width="0.12" text-anchor="middle" >18</text>
<text x="511.50" y="304.20" font-size="4.65" fill="#333333" stroke="#333333" stroke-width="0.12" text-anchor="middle" >24</text>
<text transform="translate(359.40,235.20) rotate(-90)" font-size="7" fill="#1e1e1e" stroke="#1e1e1e" stroke-width="0.2" text-anchor="middle">TTNT probability</text>
<text x="459.00" y="308.80" font-size="6.8" fill="#1e1e1e" stroke="#1e1e1e" stroke-width="0.22" text-anchor="middle" >Months</text>
<text x="385.40" y="275.00" font-size="4.5" fill="#1e1e1e" stroke="#1e1e1e" stroke-width="0.12" text-anchor="start" >p = 0.018</text>
<path d="M382.50 202.40H390.30V204.60H391.50V206.80H395.00V209.50H396.00V211.50H397.60V213.50H398.60V214.80H401.20V216.60H402.40V223.00H404.00V225.00H405.00V227.50H406.00V230.00H406.80V233.00H407.60V237.80H409.40V238.70H410.00V242.00H411.00V244.00H411.70V246.00H413.30V256.20H414.70V258.00H417.30V259.70H419.00V264.10H421.20V267.30H426.90V272.90H430.10V278.10H503.50V293.00H503.50" fill="none" stroke="#e8383c" stroke-width="1.0" stroke-opacity="1.0"/>
<path d="M393.00 0.00V0.00M399.50 0.00V0.00" stroke="#e8383c" stroke-width="0.8" fill="none"/>
<path d="M424.00 265.70V268.90" stroke="#e8383c" stroke-width="0.8" fill="none"/>
<path d="M446.30 276.50V279.70" stroke="#e8383c" stroke-width="0.8" fill="none"/>
<path d="M382.50 202.40H397.50V210.40H420.70V218.70H428.20V229.20H431.80V240.30H437.00V250.50H444.60V261.40H464.70V272.30H484.60V282.50H503.50" fill="none" stroke="#4545e8" stroke-width="1.0" stroke-opacity="1.0"/>
<path d="M427.50 217.10V220.30" stroke="#4545e8" stroke-width="0.8" fill="none"/>
<path d="M503.50 280.90V284.10" stroke="#4545e8" stroke-width="0.8" fill="none"/>
<text x="459.00" y="210.60" font-size="4.8" fill="#1e1e1e" stroke="#1e1e1e" stroke-width="0.12" text-anchor="start" >DNADX HER2 signature</text>
<path d="M472.00 218.20H476.40M474.20 216.40V220.00" stroke="#e8383c" stroke-width="0.75"/>
<text x="482.10" y="219.90" font-size="4.85" fill="#1e1e1e" stroke="#1e1e1e" stroke-width="0.12" text-anchor="start" >Low</text>
<path d="M472.00 225.30H476.40M474.20 223.50V227.10" stroke="#4545e8" stroke-width="0.75"/>
<text x="482.10" y="227.00" font-size="4.85" fill="#1e1e1e" stroke="#1e1e1e" stroke-width="0.12" text-anchor="start" >High</text>
<text x="377.20" y="318.00" font-size="4.65" fill="#1e1e1e" stroke="#1e1e1e" stroke-width="0.12" text-anchor="start" >Number at risk</text>
<text x="389.20" y="328.00" font-size="4.65" fill="#e8383c" stroke="#e8383c" stroke-width="0.12" text-anchor="end" >Low</text>
<text x="396.50" y="328.00" font-size="4.65" fill="#1e1e1e" stroke="#1e1e1e" stroke-width="0.12" text-anchor="middle" >40</text>
<text x="425.25" y="328.00" font-size="4.65" fill="#1e1e1e" stroke="#1e1e1e" stroke-width="0.12" text-anchor="middle" >11</text>
<text x="454.00" y="328.00" font-size="4.65" fill="#1e1e1e" stroke="#1e1e1e" stroke-width="0.12" text-anchor="middle" >2</text>
<text x="482.75" y="328.00" font-size="4.65" fill="#1e1e1e" stroke="#1e1e1e" stroke-width="0.12" text-anchor="middle" >1</text>
<text x="511.50" y="328.00" font-size="4.65" fill="#1e1e1e" stroke="#1e1e1e" stroke-width="0.12" text-anchor="middle" >0</text>
<text x="389.20" y="336.00" font-size="4.65" fill="#4545e8" stroke="#4545e8" stroke-width="0.12" text-anchor="end" >High</text>
<text x="396.50" y="336.00" font-size="4.65" fill="#1e1e1e" stroke="#1e1e1e" stroke-width="0.12" text-anchor="middle" >11</text>
<text x="425.25" y="336.00" font-size="4.65" fill="#1e1e1e" stroke="#1e1e1e" stroke-width="0.12" text-anchor="middle" >10</text>
<text x="454.00" y="336.00" font-size="4.65" fill="#1e1e1e" stroke="#1e1e1e" stroke-width="0.12" text-anchor="middle" >3</text>
<text x="482.75" y="336.00" font-size="4.65" fill="#1e1e1e" stroke="#1e1e1e" stroke-width="0.12" text-anchor="middle" >2</text>
<text x="511.50" y="336.00" font-size="4.65" fill="#1e1e1e" stroke="#1e1e1e" stroke-width="0.12" text-anchor="middle" >0</text>
<text x="536.60" y="185.80" font-size="9.1" fill="#1e1e1e" text-anchor="start" >E - Outcomes by HER2 IHC subtype</text>
<path d="M544.60 198.00V296.70H683.00" fill="none" stroke="#3a3a3a" stroke-width="1.1"/>
<path d="M542.80 202.40H544.60M542.80 224.80H544.60M542.80 247.20H544.60M542.80 269.60H544.60M542.80 292.00H544.60M551.10 296.70V298.50M582.40 296.70V298.50M613.70 296.70V298.50M645.00 296.70V298.50M676.30 296.70V298.50" stroke="#3a3a3a" stroke-width="0.8" fill="none"/>
<text x="541.30" y="204.05" font-size="4.65" fill="#333333" stroke="#333333" stroke-width="0.12" text-anchor="end" >1.00</text>
<text x="541.30" y="226.45" font-size="4.65" fill="#333333" stroke="#333333" stroke-width="0.12" text-anchor="end" >0.75</text>
<text x="541.30" y="248.85" font-size="4.65" fill="#333333" stroke="#333333" stroke-width="0.12" text-anchor="end" >0.50</text>
<text x="541.30" y="271.25" font-size="4.65" fill="#333333" stroke="#333333" stroke-width="0.12" text-anchor="end" >0.25</text>
<text x="541.30" y="293.65" font-size="4.65" fill="#333333" stroke="#333333" stroke-width="0.12" text-anchor="end" >0.00</text>
<text x="552.50" y="303.10" font-size="4.65" fill="#333333" stroke="#333333" stroke-width="0.12" text-anchor="middle" >0</text>
<text x="583.80" y="303.10" font-size="4.65" fill="#333333" stroke="#333333" stroke-width="0.12" text-anchor="middle" >6</text>
<text x="615.10" y="303.10" font-size="4.65" fill="#333333" stroke="#333333" stroke-width="0.12" text-anchor="middle" >12</text>
<text x="646.40" y="303.10" font-size="4.65" fill="#333333" stroke="#333333" stroke-width="0.12" text-anchor="middle" >18</text>
<text x="677.70" y="303.10" font-size="4.65" fill="#333333" stroke="#333333" stroke-width="0.12" text-anchor="middle" >24</text>
<text transform="translate(526.80,235.20) rotate(-90)" font-size="7" fill="#1e1e1e" stroke="#1e1e1e" stroke-width="0.2" text-anchor="middle">TTNT probability</text>
<text x="627.00" y="307.80" font-size="6.8" fill="#1e1e1e" stroke="#1e1e1e" stroke-width="0.22" text-anchor="middle" >Months</text>
<text x="553.20" y="275.60" font-size="4.5" fill="#1e1e1e" stroke="#1e1e1e" stroke-width="0.12" text-anchor="start" >p = 0.003</text>
<path d="M551.10 202.40H559.40V215.20H564.20V240.60H566.00V253.40H570.60V279.30H581.80V291.90H581.80" fill="none" stroke="#4a9fe2" stroke-width="1.0" stroke-opacity="1.0"/>
<path d="M551.10 202.40H559.40V206.40H574.00V211.70H578.30V217.50H585.40V225.70H596.20V238.90H633.40V265.70H653.50V291.90H653.50" fill="none" stroke="#e2ab34" stroke-width="1.0" stroke-opacity="1.0"/>
<path d="M567.50 204.80V208.00M571.00 204.80V208.00" stroke="#e2ab34" stroke-width="0.8" fill="none"/>
<path d="M581.00 215.90V219.10M582.70 215.90V219.10" stroke="#e2ab34" stroke-width="0.8" fill="none"/>
<path d="M589.70 224.10V227.30M595.00 224.10V227.30" stroke="#e2ab34" stroke-width="0.8" fill="none"/>
<path d="M597.30 237.30V240.50M598.50 237.30V240.50" stroke="#e2ab34" stroke-width="0.8" fill="none"/>
<path d="M551.10 202.40H566.50V205.50H569.60V207.50H570.50V210.00H571.30V212.50H573.10V215.70H574.00V221.30H574.80V223.00H576.20V226.60H577.50V231.80H579.20V234.00H580.10V238.00H581.00V240.60H581.80V245.90H582.70V251.10H588.00V255.50H589.60V261.60H597.80V268.80H600.30V272.90H606.40V277.40H614.60V280.60H672.50V287.30H672.50" fill="none" stroke="#e07cbc" stroke-width="1.0" stroke-opacity="1.0"/>
<path d="M614.60 279.00V282.20M616.20 279.00V282.20" stroke="#e07cbc" stroke-width="0.8" fill="none"/>
<text x="646.20" y="209.90" font-size="4.75" fill="#1e1e1e" stroke="#1e1e1e" stroke-width="0.12" text-anchor="start" >HER2 status</text>
<path d="M646.40 214.50H650.80" stroke="#4a9fe2" stroke-width="0.75"/>
<text x="653.80" y="216.20" font-size="4.85" fill="#1e1e1e" stroke="#1e1e1e" stroke-width="0.12" text-anchor="start" >Zero</text>
<path d="M646.40 219.40H650.80M648.60 217.60V221.20" stroke="#e2ab34" stroke-width="0.75"/>
<text x="653.80" y="221.10" font-size="4.85" fill="#1e1e1e" stroke="#1e1e1e" stroke-width="0.12" text-anchor="start" >Low</text>
<path d="M646.40 224.70H650.80M648.60 222.90V226.50" stroke="#e07cbc" stroke-width="0.75"/>
<text x="653.80" y="226.40" font-size="4.85" fill="#1e1e1e" stroke="#1e1e1e" stroke-width="0.12" text-anchor="start" >Positive</text>
<text x="550.20" y="314.00" font-size="4.65" fill="#1e1e1e" stroke="#1e1e1e" stroke-width="0.12" text-anchor="start" >Number at risk</text>
<text x="551.30" y="322.00" font-size="4.65" fill="#4a9fe2" stroke="#4a9fe2" stroke-width="0.12" text-anchor="end" >Zero</text>
<text x="557.30" y="322.00" font-size="4.65" fill="#1e1e1e" stroke="#1e1e1e" stroke-width="0.12" text-anchor="middle" >7</text>
<text x="587.40" y="322.00" font-size="4.65" fill="#1e1e1e" stroke="#1e1e1e" stroke-width="0.12" text-anchor="middle" >0</text>
<text x="617.50" y="322.00" font-size="4.65" fill="#1e1e1e" stroke="#1e1e1e" stroke-width="0.12" text-anchor="middle" >0</text>
<text x="647.60" y="322.00" font-size="4.65" fill="#1e1e1e" stroke="#1e1e1e" stroke-width="0.12" text-anchor="middle" >0</text>
<text x="677.70" y="322.00" font-size="4.65" fill="#1e1e1e" stroke="#1e1e1e" stroke-width="0.12" text-anchor="middle" >0</text>
<text x="551.30" y="331.00" font-size="4.65" fill="#e2ab34" stroke="#e2ab34" stroke-width="0.12" text-anchor="end" >Low</text>
<text x="557.30" y="331.00" font-size="4.65" fill="#1e1e1e" stroke="#1e1e1e" stroke-width="0.12" text-anchor="middle" >20</text>
<text x="587.40" y="331.00" font-size="4.65" fill="#1e1e1e" stroke="#1e1e1e" stroke-width="0.12" text-anchor="middle" >10</text>
<text x="617.50" y="331.00" font-size="4.65" fill="#1e1e1e" stroke="#1e1e1e" stroke-width="0.12" text-anchor="middle" >2</text>
<text x="647.60" y="331.00" font-size="4.65" fill="#1e1e1e" stroke="#1e1e1e" stroke-width="0.12" text-anchor="middle" >1</text>
<text x="677.70" y="331.00" font-size="4.65" fill="#1e1e1e" stroke="#1e1e1e" stroke-width="0.12" text-anchor="middle" >0</text>
<text x="551.30" y="338.00" font-size="4.65" fill="#e07cbc" stroke="#e07cbc" stroke-width="0.12" text-anchor="end" >Positive</text>
<text x="557.30" y="338.00" font-size="4.65" fill="#1e1e1e" stroke="#1e1e1e" stroke-width="0.12" text-anchor="middle" >24</text>
<text x="587.40" y="338.00" font-size="4.65" fill="#1e1e1e" stroke="#1e1e1e" stroke-width="0.12" text-anchor="middle" >11</text>
<text x="617.50" y="338.00" font-size="4.65" fill="#1e1e1e" stroke="#1e1e1e" stroke-width="0.12" text-anchor="middle" >3</text>
<text x="647.60" y="338.00" font-size="4.65" fill="#1e1e1e" stroke="#1e1e1e" stroke-width="0.12" text-anchor="middle" >2</text>
<text x="677.70" y="338.00" font-size="4.65" fill="#1e1e1e" stroke="#1e1e1e" stroke-width="0.12" text-anchor="middle" >0</text>
</svg></body></html>
